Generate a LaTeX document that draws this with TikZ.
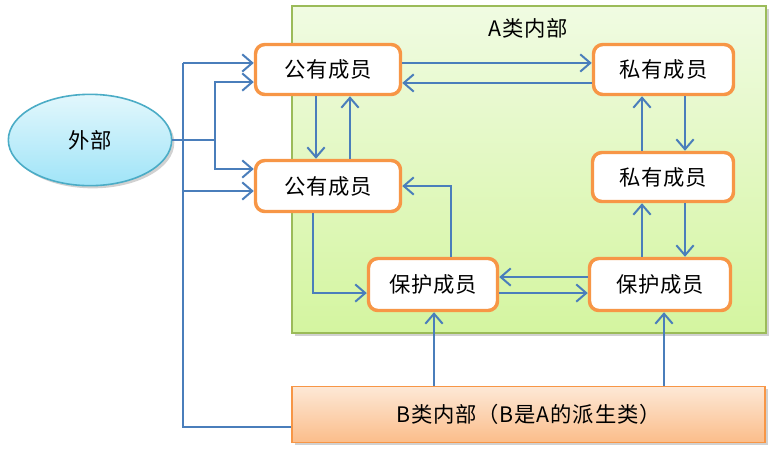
\documentclass[tikz,border=0pt]{standalone}
\usepackage{fontspec}
\setmainfont{Noto Sans CJK SC}[LetterSpace=4]
\usetikzlibrary{arrows.meta,shapes.geometric,shadows}

\definecolor{linkblue}{HTML}{4A7EBB}
\definecolor{boxorange}{HTML}{F79646}
\definecolor{areagreen}{HTML}{9BBB59}
\definecolor{ovalcyan}{HTML}{4BACC6}

\newcommand{\labelfont}{\fontsize{16pt}{19pt}\selectfont}

\tikzset{
  member/.style={draw=boxorange, line width=2.6pt, fill=white, rounded corners=7pt,
    font=\labelfont, inner sep=0pt},
  link/.style={draw=linkblue, line width=1.5pt},
  arr/.style={link, -{Straight Barb[length=7.5pt,width=13pt,line width=1.5pt]}},
  softshadow/.style={drop shadow={shadow xshift=2pt, shadow yshift=-2pt, opacity=0.3, fill=black!60}}
}

\begin{document}
\begin{tikzpicture}[x=0.75pt, y=-0.75pt]
\useasboundingbox (0,0) rectangle (774,455);

% region of class A
\node[draw=areagreen, line width=1.5pt, top color={rgb,255:red,240;green,251;blue,226},
      bottom color={rgb,255:red,212;green,245;blue,160}, softshadow,
      minimum width=355.5pt, minimum height=245.25pt, inner sep=0pt] (A) at (529,169.5) {};
\node[font=\labelfont] (Atitle) at (528,28) {A类内部};

% region of class B
\node[draw=boxorange, line width=1.2pt, top color={rgb,255:red,253;green,232;blue,214},
      bottom color={rgb,255:red,251;green,189;blue,138}, softshadow,
      minimum width=355pt, minimum height=41.75pt, inner sep=0pt,
      font=\labelfont] (B) at (528.5,414.5) {B类内部（B是A的派生类）};

% outside
\node[ellipse, draw=ovalcyan, line width=1.2pt, top color={rgb,255:red,226;green,247;blue,252},
      bottom color={rgb,255:red,160;green,228;blue,248}, softshadow,
      minimum width=122.5pt, minimum height=68.5pt, inner sep=0pt,
      font=\labelfont] (ext) at (90,140) {外部};

% members
\node[member, minimum width=108.75pt, minimum height=37.5pt] (pub1) at (328,69.5) {公有成员};
\node[member, minimum width=105pt, minimum height=37.5pt] (priv1) at (663.5,69.5) {私有成员};
\node[member, minimum width=108.75pt, minimum height=38.25pt] (pub2) at (328,186) {公有成员};
\node[member, minimum width=105.75pt, minimum height=36.75pt] (priv2) at (663,177) {私有成员};
\node[member, minimum width=96.75pt, minimum height=39pt] (prot1) at (433,284.5) {保护成员};
\node[member, minimum width=105.75pt, minimum height=39pt] (prot2) at (660,284.5) {保护成员};

% vertical guide lines
\coordinate (ta) at (183,0);
\coordinate (tb) at (215,0);
\coordinate (cl) at (642,0);
\coordinate (cr) at (685,0);
\coordinate (bl) at (434,0);
\coordinate (br) at (664,0);
\coordinate (pl) at (313,0);
\coordinate (pr) at (451,0);

% public <-> private (top row)
\draw[arr] ([yshift=4.9pt]pub1.east) -- ([yshift=4.9pt]priv1.west);
\draw[arr] ([yshift=-10.1pt]priv1.west) -- ([yshift=-10.1pt]pub1.east);

% public <-> public
\draw[arr] ([xshift=-9pt]pub1.south) -- ([xshift=-9pt]pub2.north);
\draw[arr] ([xshift=16.5pt]pub2.north) -- ([xshift=16.5pt]pub1.south);

% private column
\draw[arr] (priv2.north -| cl) -- (priv1.south -| cl);
\draw[arr] (priv1.south -| cr) -- (priv2.north -| cr);
\draw[arr] (prot2.north -| cl) -- (priv2.south -| cl);
\draw[arr] (priv2.south -| cr) -- (prot2.north -| cr);

% protected <-> protected
\draw[arr] ([yshift=5.6pt]prot2.west) -- ([yshift=5.6pt]prot1.east);
\draw[arr] ([yshift=-6.4pt]prot1.east) -- ([yshift=-6.4pt]prot2.west);

% protected <-> public
\draw[arr] (prot1.north -| pr) |- (pub2.east);
\coordinate (pp) at ([yshift=-6.4pt]prot1.west);
\draw[arr] (pub2.south -| pl) |- (pp);

% from class B
\draw[arr] (B.north -| bl) -- (prot1.south -| bl);
\draw[arr] (B.north -| br) -- (prot2.south -| br);

% from outside
\coordinate (e1) at ([yshift=-9.4pt]pub1.west);
\coordinate (e2) at ([yshift=12.75pt]pub2.west);
\draw[link] (ext.east) -- (ext.east -| tb);
\draw[arr] (ext.east -| tb) |- (e1);
\draw[arr] (ext.east -| tb) |- (e2);

% from class B along the left trunk
\coordinate (bw) at ([yshift=-9.4pt]B.west);
\coordinate (f1) at ([yshift=4.9pt]pub1.west);
\coordinate (f2) at ([yshift=-3.75pt]pub2.west);
\draw[link] (bw) -| (f1 -| ta);
\draw[arr] (f1 -| ta) -- (f1);
\draw[arr] (f2 -| ta) -- (f2);
\end{tikzpicture}
\end{document}
